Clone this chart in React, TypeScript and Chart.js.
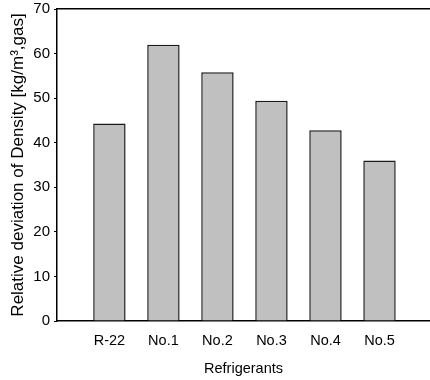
import React, { useEffect, useRef } from "react";
import { Chart, registerables } from "chart.js";

Chart.register(...registerables);

const categories = ["R-22", "No.1", "No.2", "No.3", "No.4", "No.5"];
const densityDeviation = [44.3, 62.0, 55.8, 49.4, 42.8, 36.0];
const yTicks = [0, 10, 20, 30, 40, 50, 60, 70];

const X_MIN = -0.97;
const X_MAX = 5.935;

export default function App() {
  const ref = useRef<HTMLCanvasElement | null>(null);

  useEffect(() => {
    if (!ref.current) return;
    Chart.defaults.font.family = "'Liberation Sans', Arial, sans-serif";
    Chart.defaults.color = "#000";
    const chart = new Chart(ref.current, {
      type: "bar",
      data: {
        datasets: [
          {
            data: densityDeviation.map((v, i) => ({ x: i, y: v })),
            backgroundColor: "#c0c0c0",
            borderColor: "#1a1a1a",
            borderWidth: 1.5,
            barPercentage: 0.6,
            categoryPercentage: 1,
          },
        ],
      },
      options: {
        animation: false,
        responsive: false,
        layout: { padding: { top: 9, right: 0, left: 0, bottom: 0 } },
        plugins: { legend: { display: false }, tooltip: { enabled: false } },
        scales: {
          x: {
            type: "linear",
            position: "bottom",
            offset: false,
            min: X_MIN,
            max: X_MAX,
            afterBuildTicks: (scale: any) => {
              scale.ticks = categories.map((_, i) => ({ value: i }));
            },
            afterFit: (scale: any) => {
              scale.height = 59;
              scale.paddingLeft = 0;
              scale.paddingRight = 0;
            },
            ticks: {
              font: { size: 14.5 },
              padding: 3,
              maxRotation: 0,
              autoSkip: false,
              callback: (v: any) => categories[v as number] ?? "",
            },
            grid: { display: false, offset: false },
            border: { display: true, color: "#000", width: 1.5 },
            title: {
              display: true,
              text: "Refrigerants",
              font: { size: 14.5 },
              padding: { top: 4, bottom: 2 },
            },
          },
          x2: {
            type: "linear",
            position: "top",
            display: true,
            offset: false,
            min: X_MIN,
            max: X_MAX,
            ticks: { display: false },
            grid: { display: false, drawTicks: false },
            border: { display: true, color: "#000", width: 1.5 },
          },
          y: {
            min: 0,
            max: 70,
            afterBuildTicks: (scale: any) => {
              scale.ticks = yTicks.map((v) => ({ value: v }));
            },
            afterFit: (scale: any) => {
              scale.width = 57;
              scale.paddingTop = 0;
              scale.paddingBottom = 0;
            },
            ticks: { font: { size: 15 }, padding: 4 },
            grid: {
              display: true,
              drawOnChartArea: false,
              drawTicks: true,
              tickLength: 3,
              color: "#000",
              lineWidth: 1,
            },
            border: { display: true, color: "#000", width: 1.5 },
            title: {
              display: true,
              text: "Relative deviation of Density [kg/m³,gas]",
              font: { size: 17 },
              padding: { top: 8, bottom: 4 },
            },
          },
        },
      },
    } as any);
    return () => chart.destroy();
  }, []);

  return (
    <div style={{ position: "absolute", left: 0, top: 0, width: 430, height: 380, background: "#fff" }}>
      <canvas ref={ref} width={430} height={380} style={{ width: 430, height: 380, display: "block" }} />
    </div>
  );
}
